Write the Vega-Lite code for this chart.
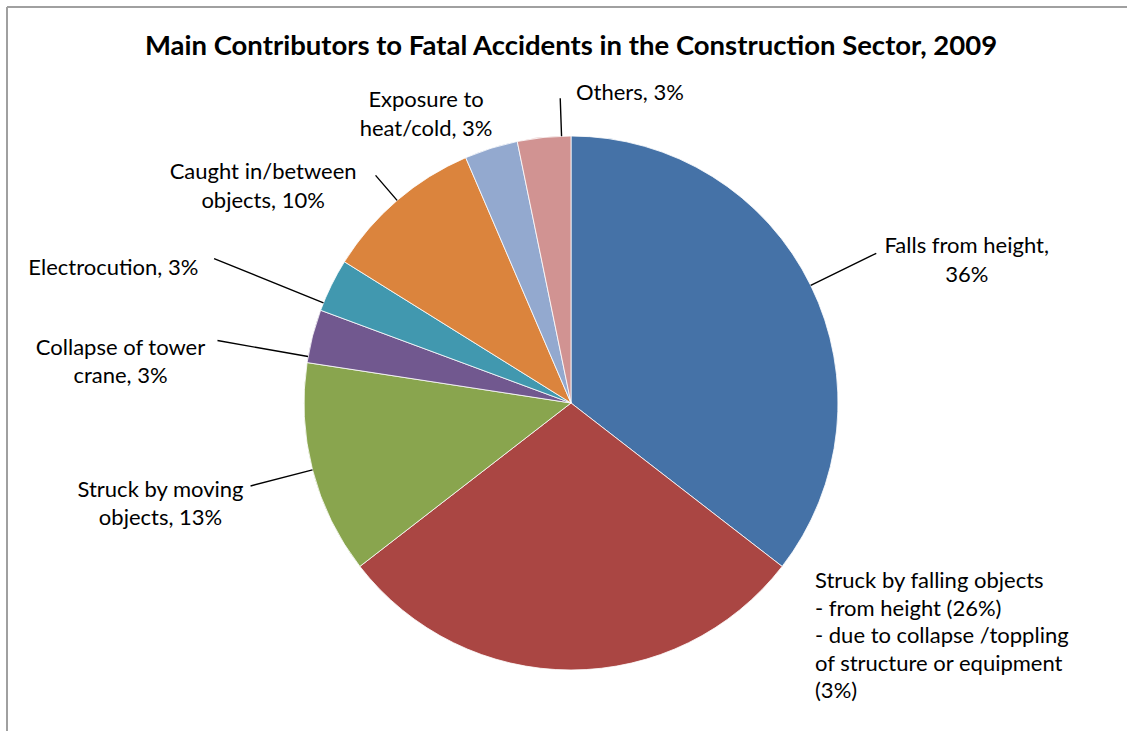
{
  "$schema": "https://vega.github.io/schema/vega-lite/v6.json",
  "autosize": "none",
  "width": 1128,
  "height": 792,
  "padding": {"left": 7, "top": 7, "right": -8, "bottom": -68},
  "background": "white",
  "config": {"view": {"stroke": null}, "font": "Lato"},
  "title": {
    "text": "Main Contributors to Fatal Accidents in the Construction Sector, 2009",
    "font": "Lato", "fontSize": 27.5, "fontWeight": "bold", "color": "black",
    "anchor": "middle", "frame": "group", "baseline": "alphabetic", "offset": -76
  },
  "data": {
    "values": [
      {"idx": 1, "cause": "Falls from height", "count": 11, "label": "Falls from height,\n36%"},
      {"idx": 2, "cause": "Struck by falling objects", "count": 9, "label": "Struck by falling objects\n- from height (26%)\n- due to collapse /toppling\nof structure or equipment\n(3%)"},
      {"idx": 3, "cause": "Struck by moving objects", "count": 4, "label": "Struck by moving\nobjects, 13%"},
      {"idx": 4, "cause": "Collapse of tower crane", "count": 1, "label": "Collapse of tower\ncrane, 3%"},
      {"idx": 5, "cause": "Electrocution", "count": 1, "label": "Electrocution, 3%"},
      {"idx": 6, "cause": "Caught in/between objects", "count": 3, "label": "Caught in/between\nobjects, 10%"},
      {"idx": 7, "cause": "Exposure to heat/cold", "count": 1, "label": "Exposure to\nheat/cold, 3%"},
      {"idx": 8, "cause": "Others", "count": 1, "label": "Others, 3%"}
    ]
  },
  "transform": [
    {"window": [{"op": "sum", "field": "count", "as": "cum"}], "sort": [{"field": "idx"}], "frame": [null, 0]},
    {"joinaggregate": [{"op": "sum", "field": "count", "as": "total"}]},
    {"calculate": "2*PI*(datum.cum - datum.count/2)/datum.total", "as": "mid"}
  ],
  "layer": [
    {
      "transform": [{"filter": "datum.idx == 1"}],
      "mark": {"type": "rule", "stroke": "#a0a0a0", "strokeWidth": 2},
      "encoding": {"y": {"value": 0}}
    },
    {
      "transform": [{"filter": "datum.idx == 1"}],
      "mark": {"type": "rule", "stroke": "#a0a0a0", "strokeWidth": 2},
      "encoding": {"x": {"value": 0}}
    },
    {
      "mark": {"type": "arc", "radius": 267, "stroke": "white", "strokeWidth": 0.8},
      "encoding": {
        "theta": {"field": "count", "type": "quantitative", "stack": true},
        "order": {"field": "idx", "type": "quantitative"},
        "color": {
          "field": "cause", "type": "nominal", "legend": null,
          "scale": {
            "domain": ["Falls from height", "Struck by falling objects", "Struck by moving objects", "Collapse of tower crane", "Electrocution", "Caught in/between objects", "Exposure to heat/cold", "Others"],
            "range": ["#4572A7", "#AA4643", "#89A54E", "#71588F", "#4198AF", "#DB843D", "#93A9CF", "#D19392"]
          }
        }
      }
    },
    {
      "transform": [{"filter": "datum.idx == 1"}],
      "mark": {"type": "arc", "filled": false, "color": "black", "strokeWidth": 1.4, "radius": 267, "radius2": 340},
      "encoding": {"theta": {"field": "mid", "type": "quantitative", "scale": null, "stack": null}, "theta2": {"field": "mid"}}
    },
    {
      "transform": [{"filter": "datum.idx == 3"}],
      "mark": {"type": "arc", "filled": false, "color": "black", "strokeWidth": 1.4, "radius": 267, "radius2": 331},
      "encoding": {"theta": {"field": "mid", "type": "quantitative", "scale": null, "stack": null}, "theta2": {"field": "mid"}}
    },
    {
      "transform": [{"filter": "datum.idx == 4"}],
      "mark": {"type": "arc", "filled": false, "color": "black", "strokeWidth": 1.4, "radius": 267, "radius2": 359, "thetaOffset": -0.0785, "theta2Offset": -0.0785},
      "encoding": {"theta": {"field": "mid", "type": "quantitative", "scale": null, "stack": null}, "theta2": {"field": "mid"}}
    },
    {
      "transform": [{"filter": "datum.idx == 5"}],
      "mark": {"type": "arc", "filled": false, "color": "black", "strokeWidth": 1.4, "radius": 267, "radius2": 385, "thetaOffset": -0.0716, "theta2Offset": -0.0716},
      "encoding": {"theta": {"field": "mid", "type": "quantitative", "scale": null, "stack": null}, "theta2": {"field": "mid"}}
    },
    {
      "transform": [{"filter": "datum.idx == 6"}],
      "mark": {"type": "arc", "filled": false, "color": "black", "strokeWidth": 1.4, "radius": 267, "radius2": 300},
      "encoding": {"theta": {"field": "mid", "type": "quantitative", "scale": null, "stack": null}, "theta2": {"field": "mid"}}
    },
    {
      "transform": [{"filter": "datum.idx == 8"}],
      "mark": {"type": "arc", "filled": false, "color": "black", "strokeWidth": 1.4, "radius": 267, "radius2": 305, "thetaOffset": 0.066, "theta2Offset": 0.066},
      "encoding": {"theta": {"field": "mid", "type": "quantitative", "scale": null, "stack": null}, "theta2": {"field": "mid"}}
    },
    {
      "transform": [{"filter": "datum.idx == 1"}],
      "mark": {"type": "text", "radius": 267, "dx": 156, "dy": -32, "align": "center", "baseline": "alphabetic", "fontSize": 22, "lineHeight": 29, "lineBreak": "\n", "font": "Lato", "color": "black"},
      "encoding": {"theta": {"field": "mid", "type": "quantitative", "scale": null, "stack": null}, "text": {"field": "label"}}
    },
    {
      "transform": [{"filter": "datum.idx == 2"}],
      "mark": {"type": "text", "radius": 267, "dx": 244, "dy": -82, "align": "left", "baseline": "alphabetic", "fontSize": 22, "lineHeight": 27.5, "lineBreak": "\n", "font": "Lato", "color": "black"},
      "encoding": {"theta": {"field": "mid", "type": "quantitative", "scale": null, "stack": null}, "text": {"field": "label"}}
    },
    {
      "transform": [{"filter": "datum.idx == 3"}],
      "mark": {"type": "text", "radius": 267, "dx": -152, "dy": 27, "align": "center", "baseline": "alphabetic", "fontSize": 22, "lineHeight": 28, "lineBreak": "\n", "font": "Lato", "color": "black"},
      "encoding": {"theta": {"field": "mid", "type": "quantitative", "scale": null, "stack": null}, "text": {"field": "label"}}
    },
    {
      "transform": [{"filter": "datum.idx == 4"}],
      "mark": {"type": "text", "radius": 267, "dx": -192, "dy": 19, "align": "center", "baseline": "alphabetic", "fontSize": 22, "lineHeight": 28, "lineBreak": "\n", "font": "Lato", "color": "black"},
      "encoding": {"theta": {"field": "mid", "type": "quantitative", "scale": null, "stack": null}, "text": {"field": "label"}}
    },
    {
      "transform": [{"filter": "datum.idx == 5"}],
      "mark": {"type": "text", "radius": 267, "dx": -133, "dy": -10, "align": "right", "baseline": "alphabetic", "fontSize": 22, "lineHeight": 28, "lineBreak": "\n", "font": "Lato", "color": "black"},
      "encoding": {"theta": {"field": "mid", "type": "quantitative", "scale": null, "stack": null}, "text": {"field": "label"}}
    },
    {
      "transform": [{"filter": "datum.idx == 6"}],
      "mark": {"type": "text", "radius": 267, "dx": -134, "dy": -21, "align": "center", "baseline": "alphabetic", "fontSize": 22, "lineHeight": 29, "lineBreak": "\n", "font": "Lato", "color": "black"},
      "encoding": {"theta": {"field": "mid", "type": "quantitative", "scale": null, "stack": null}, "text": {"field": "label"}}
    },
    {
      "transform": [{"filter": "datum.idx == 7"}],
      "mark": {"type": "text", "radius": 267, "dx": -65, "dy": -41, "align": "center", "baseline": "alphabetic", "fontSize": 22, "lineHeight": 29, "lineBreak": "\n", "font": "Lato", "color": "black"},
      "encoding": {"theta": {"field": "mid", "type": "quantitative", "scale": null, "stack": null}, "text": {"field": "label"}}
    },
    {
      "transform": [{"filter": "datum.idx == 8"}],
      "mark": {"type": "text", "radius": 267, "dx": 32, "dy": -37, "align": "left", "baseline": "alphabetic", "fontSize": 22, "lineHeight": 28, "lineBreak": "\n", "font": "Lato", "color": "black"},
      "encoding": {"theta": {"field": "mid", "type": "quantitative", "scale": null, "stack": null}, "text": {"field": "label"}}
    }
  ]
}
